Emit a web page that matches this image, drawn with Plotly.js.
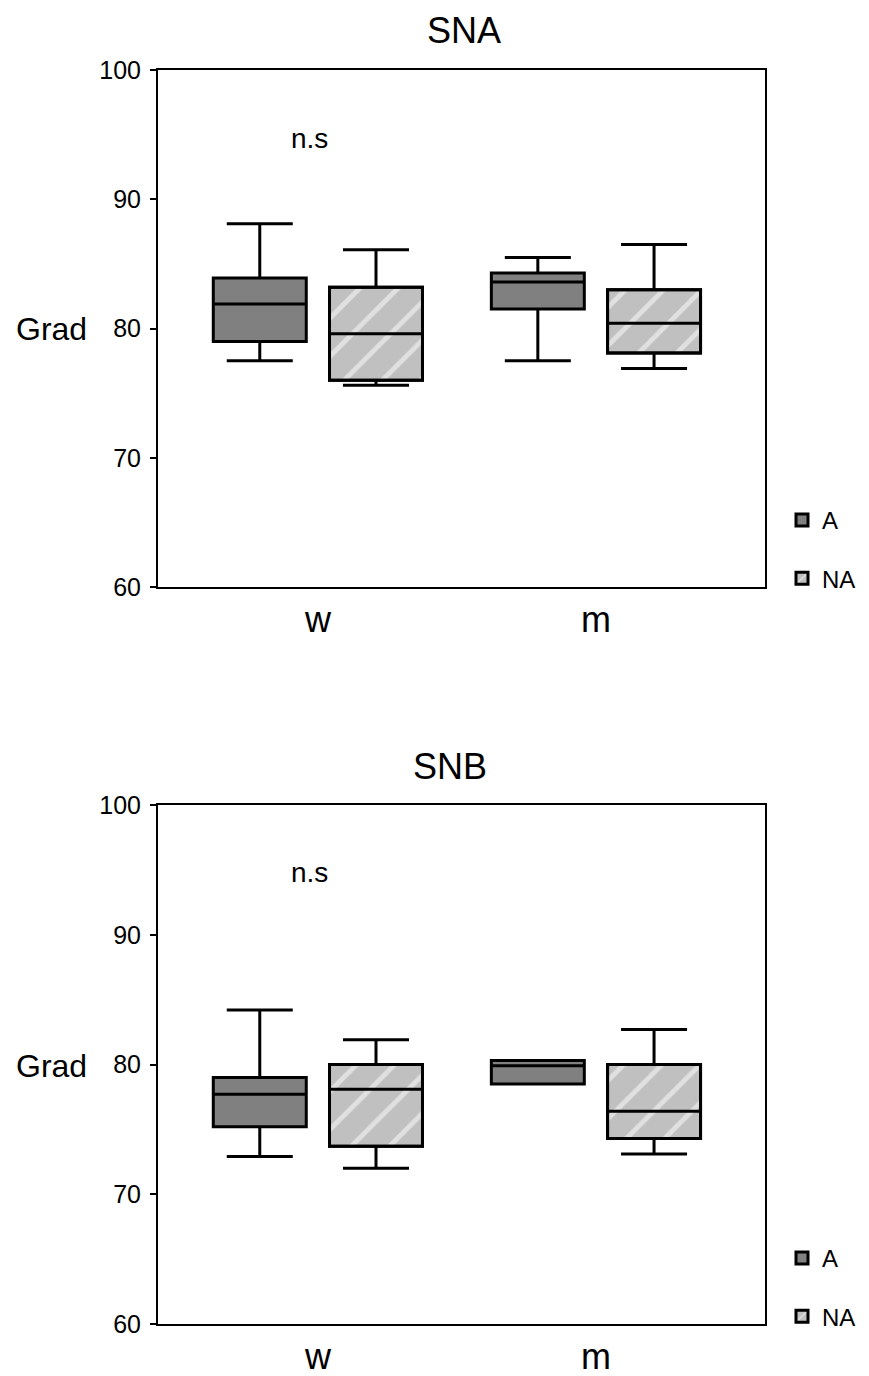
<!DOCTYPE html>
<html>
<head>
<meta charset="utf-8">
<script src="https://cdn.plot.ly/plotly-3.0.1.min.js"></script>
<style>
html,body{margin:0;padding:0;background:#fff;}
#chart{width:869px;height:1376px;}
</style>
</head>
<body>
<div id="chart"></div>
<script>
// ---------- data ----------
const categories = ['w', 'm'];
const groupNames = ['A', 'NA'];
const panelTitles = ['SNA', 'SNB'];
const yTickVals = [60, 70, 80, 90, 100];
const yLabel = 'Grad';
const sigLabel = 'n.s';

// SNA panel
const snaA_lower  = [77.5, 77.5];
const snaA_q1     = [79.0, 81.5];
const snaA_median = [81.9, 83.6];
const snaA_q3     = [83.9, 84.3];
const snaA_upper  = [88.1, 85.5];

const snaNA_lower  = [75.6, 76.9];
const snaNA_q1     = [76.0, 78.1];
const snaNA_median = [79.6, 80.4];
const snaNA_q3     = [83.2, 83.0];
const snaNA_upper  = [86.1, 86.5];

// SNB panel
const snbA_lower  = [72.9, 78.5];
const snbA_q1     = [75.2, 78.5];
const snbA_median = [77.7, 79.9];
const snbA_q3     = [79.0, 80.3];
const snbA_upper  = [84.2, 80.3];

const snbNA_lower  = [72.0, 73.1];
const snbNA_q1     = [73.7, 74.3];
const snbNA_median = [78.1, 76.4];
const snbNA_q3     = [80.0, 80.0];
const snbNA_upper  = [81.9, 82.7];

// ---------- styling ----------
const FONT = 'Liberation Sans, Arial, sans-serif';
const darkFill = '#808080';
const lightFill = '#c0c0c0';
const BOXGAP = 0.164, BOXGROUPGAP = 0.2;
const boxW = (1 - BOXGAP) / 2 * (1 - BOXGROUPGAP);
const naCenter = (1 - BOXGAP) / 4;
const naOffset = naCenter - boxW / 2;
const LW = 3;

function diff(a, b) { return a.map((v, i) => v - b[i]); }

function panel(xa, ya, legendId, A, NA) {
  return [
    { // hatched fill behind the NA boxes
      type: 'bar', xaxis: xa, yaxis: ya, legend: legendId,
      x: categories, base: NA.q1, y: diff(NA.q3, NA.q1),
      width: boxW, offset: naOffset,
      name: groupNames[1], legendgroup: 'na', legendrank: 2,
      marker: {
        color: lightFill,
        line: { color: '#000', width: LW },
        pattern: { shape: '/', fgcolor: '#ffffff', bgcolor: lightFill, size: 27, solidity: 0.18, fillmode: 'overlay' }
      },
      hoverinfo: 'skip'
    },
    {
      type: 'box', xaxis: xa, yaxis: ya, legend: legendId,
      x: categories, q1: A.q1, median: A.median, q3: A.q3,
      lowerfence: A.lower, upperfence: A.upper,
      name: groupNames[0], legendgroup: 'a', legendrank: 1,
      offsetgroup: 'A', alignmentgroup: 'g',
      fillcolor: darkFill, line: { color: '#000', width: LW },
      whiskerwidth: 0.71, boxpoints: false
    },
    {
      type: 'box', xaxis: xa, yaxis: ya, legend: legendId,
      x: categories, q1: NA.q1, median: NA.median, q3: NA.q3,
      lowerfence: NA.lower, upperfence: NA.upper,
      name: groupNames[1], legendgroup: 'na', showlegend: false,
      offsetgroup: 'NA', alignmentgroup: 'g',
      fillcolor: 'rgba(0,0,0,0)', line: { color: '#000', width: LW },
      whiskerwidth: 0.71, boxpoints: false
    }
  ];
}

const data = [].concat(
  panel('x', 'y', 'legend',
    { lower: snaA_lower, q1: snaA_q1, median: snaA_median, q3: snaA_q3, upper: snaA_upper },
    { lower: snaNA_lower, q1: snaNA_q1, median: snaNA_median, q3: snaNA_q3, upper: snaNA_upper }),
  panel('x2', 'y2', 'legend2',
    { lower: snbA_lower, q1: snbA_q1, median: snbA_median, q3: snbA_q3, upper: snbA_upper },
    { lower: snbNA_lower, q1: snbNA_q1, median: snbNA_median, q3: snbNA_q3, upper: snbNA_upper })
);

const H = 1376, W = 869;
const xDom = [158 / W, 765 / W];
function xAxis(anchor) {
  return {
    domain: xDom, anchor: anchor, type: 'category', range: [-0.575, 1.608],
    showline: true, mirror: true, linecolor: '#000', linewidth: 2,
    ticks: '', showgrid: false, zeroline: false,
    tickfont: { family: FONT, size: 36, color: '#000' }, ticklabelstandoff: 0
  };
}
function yAxis(anchor, dom) {
  return {
    domain: dom, anchor: anchor, range: [60, 100], tickvals: yTickVals,
    showline: true, mirror: true, linecolor: '#000', linewidth: 2,
    ticks: 'outside', ticklen: 6, tickwidth: 2, tickcolor: '#000',
    showgrid: false, zeroline: false,
    tickfont: { family: FONT, size: 25, color: '#000' }, ticklabelstandoff: 4
  };
}
function legendCfg(y) {
  return {
    x: 782 / W, y: y, xanchor: 'left', yanchor: 'top',
    font: { family: FONT, size: 24, color: '#000' },
    traceorder: 'grouped', tracegroupgap: 24, itemwidth: 30,
    bgcolor: 'rgba(0,0,0,0)'
  };
}

const layout = {
  width: W, height: H,
  margin: { l: 0, r: 0, t: 0, b: 0 },
  paper_bgcolor: '#fff', plot_bgcolor: '#fff',
  showlegend: true,
  boxmode: 'group', boxgap: BOXGAP, boxgroupgap: BOXGROUPGAP,
  barmode: 'overlay',
  xaxis: xAxis('y'),
  yaxis: yAxis('x', [1 - 587 / H, 1 - 70 / H]),
  xaxis2: xAxis('y2'),
  yaxis2: yAxis('x2', [1 - 1324 / H, 1 - 805 / H]),
  legend: legendCfg(1 - 498 / H),
  legend2: legendCfg(1 - 1236 / H),
  annotations: [
    { text: panelTitles[0], xref: 'paper', yref: 'paper', x: 464 / W, y: 1 - 30 / H, xanchor: 'center', yanchor: 'middle', showarrow: false, font: { family: FONT, size: 36, color: '#000' } },
    { text: panelTitles[1], xref: 'paper', yref: 'paper', x: 450 / W, y: 1 - 766 / H, xanchor: 'center', yanchor: 'middle', showarrow: false, font: { family: FONT, size: 36, color: '#000' } },
    { text: yLabel, xref: 'paper', yref: 'paper', x: 51 / W, y: 1 - 329 / H, xanchor: 'center', yanchor: 'middle', showarrow: false, font: { family: FONT, size: 32, color: '#000' } },
    { text: yLabel, xref: 'paper', yref: 'paper', x: 51 / W, y: 1 - 1066 / H, xanchor: 'center', yanchor: 'middle', showarrow: false, font: { family: FONT, size: 32, color: '#000' } },
    { text: sigLabel, xref: 'x domain', yref: 'y domain', x: 0.25, y: 0.868, xanchor: 'center', yanchor: 'middle', showarrow: false, font: { family: FONT, size: 28, color: '#000' } },
    { text: sigLabel, xref: 'x2 domain', yref: 'y2 domain', x: 0.25, y: 0.869, xanchor: 'center', yanchor: 'middle', showarrow: false, font: { family: FONT, size: 28, color: '#000' } }
  ]
};

Plotly.newPlot('chart', data, layout, { staticPlot: true, displayModeBar: false });
</script>
</body>
</html>
